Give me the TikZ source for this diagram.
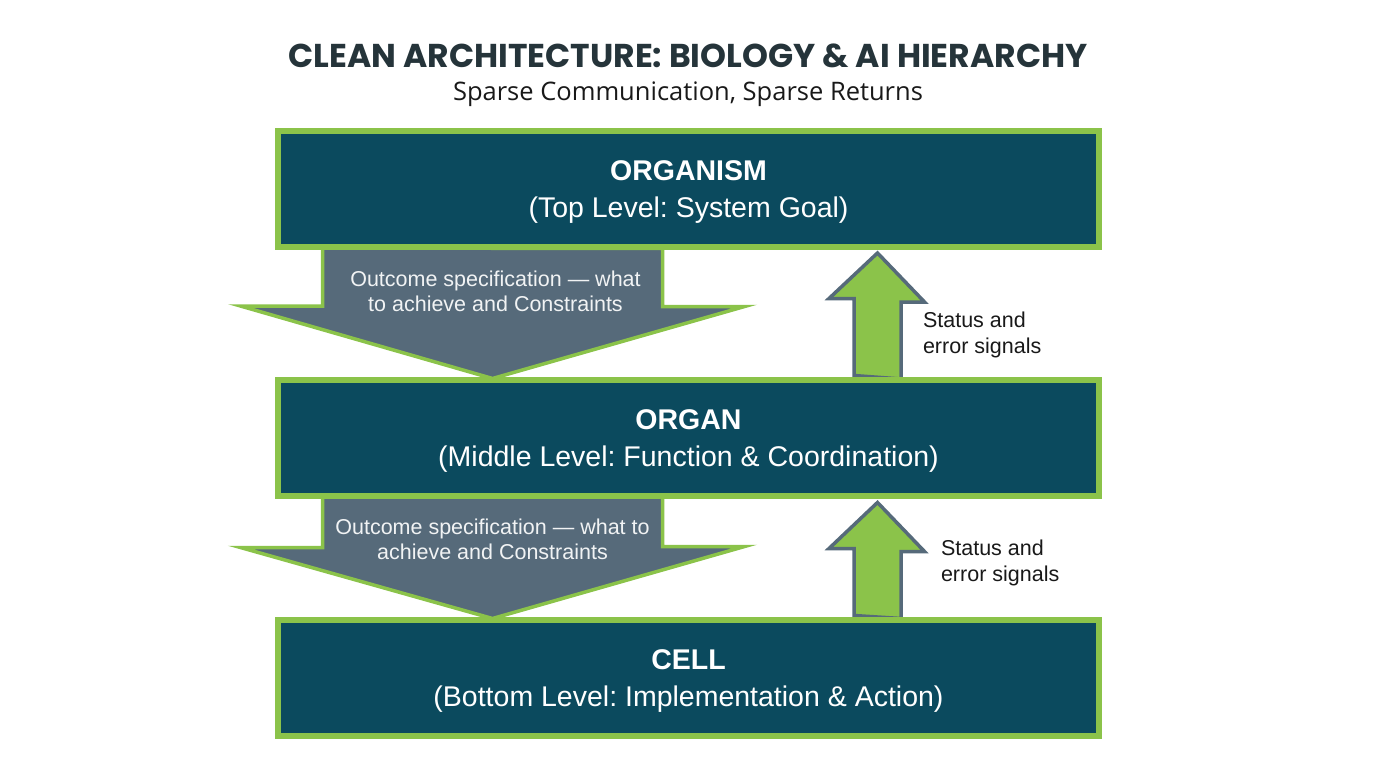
\documentclass[tikz,border=0pt]{standalone}
\usepackage{fontspec}
\setmainfont{Liberation Sans}
\newfontfamily\titlefont{Poppins}
\newfontfamily\subfont{Open Sans}
\usetikzlibrary{calc, positioning}
\frenchspacing

\definecolor{BoxTeal}{HTML}{0B4A5E}
\definecolor{LeafGreen}{HTML}{8BC34A}
\definecolor{SlateGray}{HTML}{566A7A}
\definecolor{TitleInk}{HTML}{25343A}

\tikzset{
  levelbox/.style={draw=LeafGreen, line width=4pt, fill=BoxTeal, minimum width=819pt,
    minimum height=114pt, inner sep=0pt, text=white, align=center,
    font=\fontsize{28.5}{37}\selectfont},
  downarrow/.style={draw=LeafGreen, line width=3.5pt, fill=SlateGray, line join=miter},
  uparrow/.style={draw=SlateGray, line width=3.5pt, fill=LeafGreen, line join=miter},
  arrowtext/.style={text=white!92!SlateGray, align=center, font=\fontsize{21.5}{25}\selectfont},
  sidelabel/.style={text=black!90, align=left, anchor=west, font=\fontsize{21.5}{26}\selectfont}
}

\begin{document}
\begin{tikzpicture}[x=1pt, y=-1pt]
  \useasboundingbox[fill=white] (0,0) rectangle (1376,768);

  % title
  \node[text=TitleInk, font=\titlefont\bfseries\fontsize{33}{36}\selectfont] (title) at (688,56)
    {CLEAN ARCHITECTURE: BIOLOGY \& AI HIERARCHY};
  \node[text=black!90, font=\subfont\fontsize{25.5}{28}\selectfont] (subtitle) at (688,94)
    {Sparse Communication, Sparse Returns};

  % levels
  \node[levelbox] (organism) at (688.5,189) {};
  \node[levelbox] (organ) at (688.5,437.5) {};
  \node[levelbox] (cell) at (688.5,677.5) {};

  % downward specification arrows
  \coordinate (d1) at ($(organism.south)+(-196,0)$);
  \draw[downarrow] (d1) ++(-170,0) -- ++(0,58) -- ++(-82,0) -- (organ.north -| d1)
    -- ++(252,-72) -- ++(-82,0) -- ++(0,-58) -- cycle;
  \node[arrowtext] (spec1) at ($(d1)+(3,43)$) {Outcome specification --- what\\to achieve and Constraints};

  \coordinate (d2) at ($(organ.south)+(-196,0)$);
  \draw[downarrow] (d2) ++(-170,0) -- ++(0,51) -- ++(-82,0) -- (cell.north -| d2)
    -- ++(252,-72) -- ++(-82,0) -- ++(0,-51) -- cycle;
  \node[arrowtext] (spec2) at ($(d2)+(0,43)$) {Outcome specification --- what to\\achieve and Constraints};

  % upward status arrows
  \coordinate (u1) at ($(organ.north)+(189,-3)$);
  \draw[uparrow] (u1) ++(-23.5,0) -- ++(0,-77) -- ++(-25,0) -- ($(organism.south -| u1)+(0,5)$)
    -- ++(47,49) -- ++(-23.5,0) -- ++(0,77) -- cycle;
  \node[sidelabel] (status1) at ($(u1)+(42,-41)$) {Status and\\error signals};

  \coordinate (u2) at ($(cell.north)+(189,-3)$);
  \draw[uparrow] (u2) ++(-23.5,0) -- ++(0,-67) -- ++(-25,0) -- ($(organ.south -| u2)+(0,6)$)
    -- ++(47,49) -- ++(-23.5,0) -- ++(0,67) -- cycle;
  \node[sidelabel] (status2) at ($(u2)+(60,-53)$) {Status and\\error signals};

  % boxes drawn again so their borders sit over the arrow ends
  \foreach \lvl in {organism, organ, cell}
    \draw[draw=LeafGreen, line width=4pt] (\lvl.north west) rectangle (\lvl.south east);

  % level texts
  \node[levelbox, draw=none, fill=none] (organismtext) at ($(organism)+(0,3)$)
    {\textbf{ORGANISM}\\(Top Level: System Goal)};
  \node[levelbox, draw=none, fill=none] (organtext) at ($(organ)+(0,3)$)
    {\textbf{ORGAN}\\(Middle Level: Function \& Coordination)};
  \node[levelbox, draw=none, fill=none] (celltext) at ($(cell)+(0,3)$)
    {\textbf{CELL}\\(Bottom Level: Implementation \& Action)};
\end{tikzpicture}
\end{document}
